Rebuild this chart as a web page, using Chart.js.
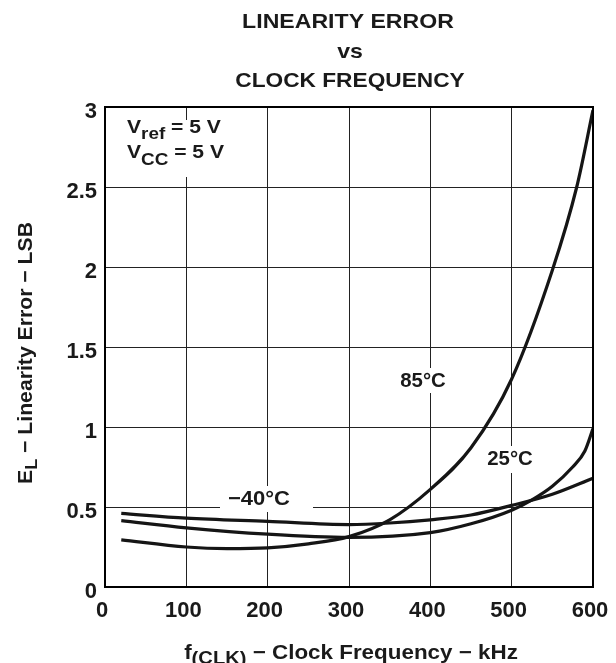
<!DOCTYPE html>
<html><head><meta charset="utf-8">
<script src="https://cdn.jsdelivr.net/npm/chart.js@4"></script>
<style>html,body{margin:0;padding:0;background:#fff}canvas{display:block}</style>
</head><body>
<canvas id="c" width="616" height="663"></canvas>
<script>
// ---- data ----
const xTicks = [0, 100, 200, 300, 400, 500, 600];
const yTicks = [0, 0.5, 1, 1.5, 2, 2.5, 3];
const seriesNames = ['−40°C', '25°C', '85°C'];
const freqM40 = [20, 100, 200, 300, 350, 400, 450, 500, 550, 600];
const errM40  = [0.46, 0.43, 0.41, 0.39, 0.40, 0.42, 0.45, 0.51, 0.58, 0.68];
const freq25  = [20, 100, 200, 300, 400, 450, 500, 525, 550, 575, 590, 600];
const err25   = [0.415, 0.37, 0.33, 0.31, 0.34, 0.395, 0.48, 0.545, 0.63, 0.75, 0.85, 0.99];
const freq85  = [20, 100, 150, 200, 250, 300, 350, 400, 450, 500, 550, 580, 600];
const err85   = [0.295, 0.25, 0.24, 0.245, 0.27, 0.315, 0.42, 0.61, 0.87, 1.30, 1.98, 2.5, 2.98];

const FONT = '"Liberation Sans", Arial, Helvetica, sans-serif';
const INK = '#1a1a1a';

function pts(xs, ys) { return xs.map((x, i) => ({x: x, y: ys[i]})); }

// draws a run of text pieces (with sub-scripts), optionally stretched horizontally by sx
function rich(ctx, pieces, x, y, align, sx) {
  sx = sx || 1;
  let w = 0;
  pieces.forEach(p => { ctx.font = 'bold ' + p.s + 'px ' + FONT; p.w = ctx.measureText(p.t).width; w += p.w; });
  ctx.save();
  ctx.translate(x, y);
  ctx.scale(sx, 1);
  let cx = align === 'center' ? -w / 2 : 0;
  ctx.textAlign = 'left'; ctx.textBaseline = 'alphabetic';
  pieces.forEach(p => { ctx.font = 'bold ' + p.s + 'px ' + FONT; ctx.fillText(p.t, cx, (p.dy || 0)); cx += p.w; });
  ctx.restore();
}

const annot = {
  id: 'annot',
  beforeDatasetsDraw(chart) {
    const ctx = chart.ctx;
    ctx.save();
    ctx.fillStyle = '#fff';
    // white boxes that interrupt the grid behind labels
    ctx.fillRect(120, 120, 110, 57);
    ctx.fillRect(220, 486, 93, 26);
    ctx.fillRect(396, 368, 55, 25);
    ctx.fillRect(483, 446, 55, 27);
    ctx.fillStyle = INK;
    rich(ctx, [{t: 'V', s: 19}, {t: 'ref', s: 17, dy: 6}, {t: ' = 5 V', s: 19}], 127, 133, 'left', 1.11);
    rich(ctx, [{t: 'V', s: 19}, {t: 'CC', s: 17, dy: 7}, {t: ' = 5 V', s: 19}], 127, 158, 'left', 1.11);
    rich(ctx, [{t: seriesNames[0], s: 20}], 259, 505, 'center', 1.1);
    rich(ctx, [{t: seriesNames[2], s: 20}], 423, 387, 'center', 1.02);
    rich(ctx, [{t: seriesNames[1], s: 20}], 510, 465, 'center', 1.02);
    ctx.restore();
  },
  afterDraw(chart) {
    const ctx = chart.ctx, a = chart.chartArea;
    ctx.save();
    ctx.strokeStyle = '#000'; ctx.lineWidth = 2;
    ctx.strokeRect(a.left, a.top, a.right - a.left, a.bottom - a.top);
    ctx.fillStyle = INK;
    rich(ctx, [{t: 'LINEARITY ERROR', s: 21}], 348, 28, 'center', 1.1);
    rich(ctx, [{t: 'vs', s: 21}], 350, 58, 'center', 1.1);
    rich(ctx, [{t: 'CLOCK FREQUENCY', s: 21}], 350, 87, 'center', 1.08);
    rich(ctx, [{t: 'f', s: 20}, {t: '(CLK)', s: 18, dy: 5}, {t: ' − Clock Frequency − kHz', s: 20}], 351, 659, 'center', 1.12);
    ctx.translate(32, 353);
    ctx.rotate(-Math.PI / 2);
    rich(ctx, [{t: 'E', s: 20}, {t: 'L', s: 17, dy: 5}, {t: ' − Linearity Error − LSB', s: 20}], 0, 0, 'center', 1.06);
    ctx.restore();
  }
};

const lineStyle = {borderColor: '#151515', borderWidth: 3.2, pointRadius: 0, fill: false, cubicInterpolationMode: 'monotone'};

new Chart(document.getElementById('c'), {
  type: 'line',
  data: {
    datasets: [
      Object.assign({label: seriesNames[0], data: pts(freqM40, errM40)}, lineStyle),
      Object.assign({label: seriesNames[1], data: pts(freq25, err25)}, lineStyle),
      Object.assign({label: seriesNames[2], data: pts(freq85, err85)}, lineStyle)
    ]
  },
  options: {
    responsive: false, animation: false, devicePixelRatio: 1,
    layout: {padding: {top: 107, right: 23, left: 0, bottom: 0}},
    plugins: {legend: {display: false}, tooltip: {enabled: false}},
    scales: {
      x: {
        type: 'linear', min: xTicks[0], max: xTicks[xTicks.length - 1],
        afterBuildTicks: s => { s.ticks = xTicks.map(v => ({value: v})); },
        afterFit: s => { s.height = 76; s.paddingLeft = 0; s.paddingRight = 0; },
        ticks: {color: INK, font: {size: 22, weight: 'bold', family: FONT}, padding: 11, labelOffset: -3, maxRotation: 0, autoSkip: false,
                callback: v => String(v)},
        grid: {color: '#222', lineWidth: 1, drawTicks: false},
        border: {display: true, color: '#000', width: 2}
      },
      y: {
        type: 'linear', min: yTicks[0], max: yTicks[yTicks.length - 1],
        afterBuildTicks: s => { s.ticks = yTicks.map(v => ({value: v})); },
        afterFit: s => { s.width = 105; s.paddingTop = 0; s.paddingBottom = 0; },
        ticks: {color: INK, font: {size: 22, weight: 'bold', family: FONT}, padding: 8, labelOffset: 5, autoSkip: false,
                callback: v => String(v)},
        grid: {color: '#222', lineWidth: 1, drawTicks: false},
        border: {display: true, color: '#000', width: 2}
      }
    }
  },
  plugins: [annot]
});
</script>
</body></html>
